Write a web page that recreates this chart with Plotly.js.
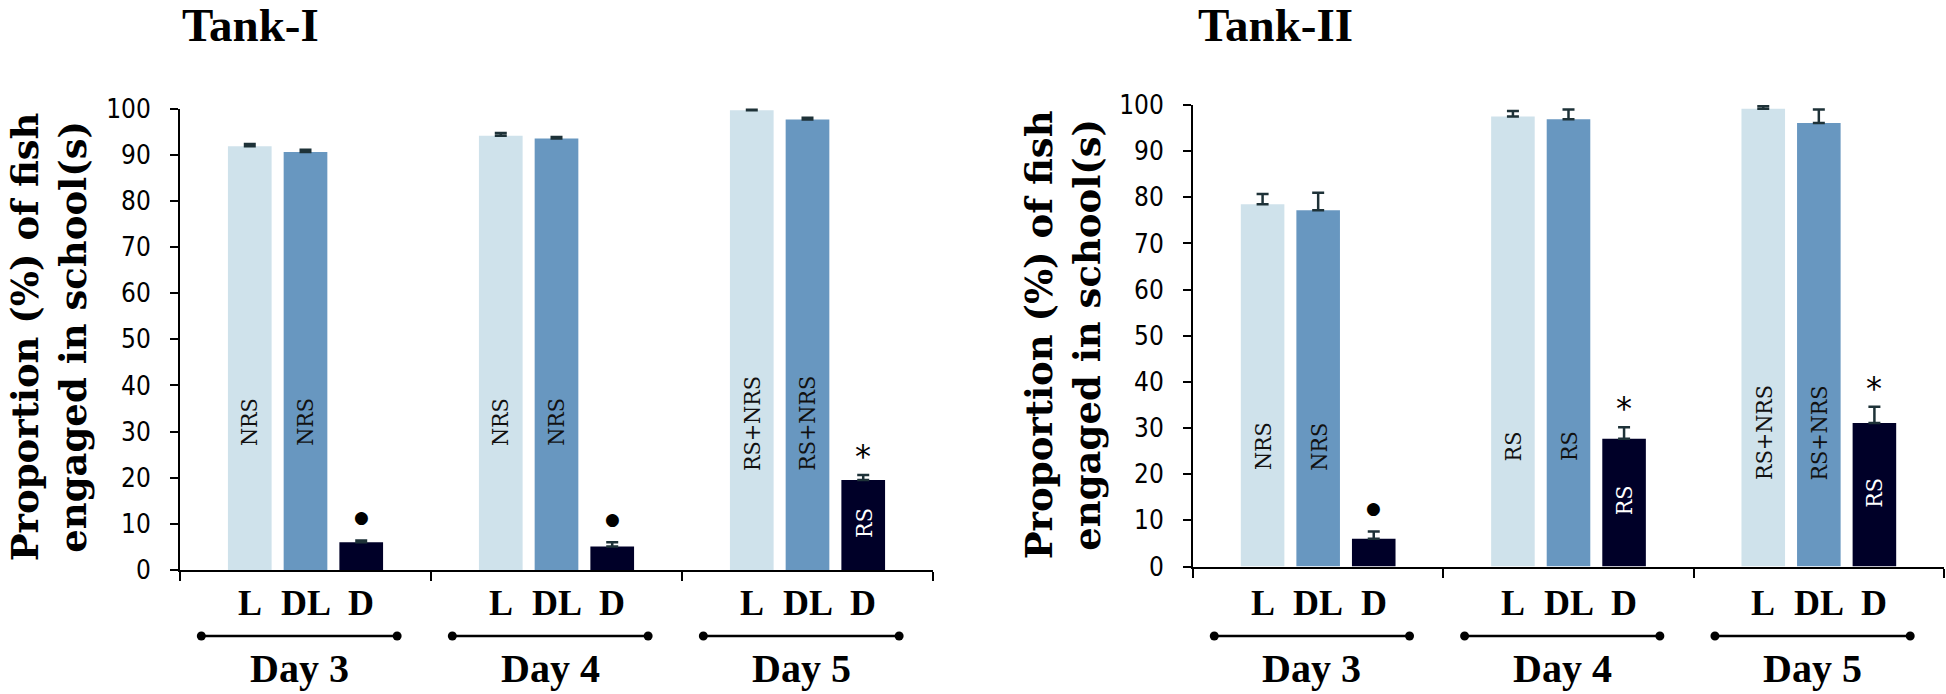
<!DOCTYPE html>
<html>
<head>
<meta charset="utf-8">
<script src="https://cdn.plot.ly/plotly-3.0.1.min.js"></script>
<style>html,body{margin:0;padding:0;background:#fff;}#chart{width:1946px;height:694px;}</style>
</head>
<body>
<div id="chart"></div>
<script>
// ---------------- data ----------------
const days = ['Day 3', 'Day 4', 'Day 5'];
const conditions = ['L', 'DL', 'D'];
const panelTitles = ['Tank-I', 'Tank-II'];
const yTitle = 'Proportion (%) of fish<br>engaged in school(s)';

// Tank-I
const t1_L = [91.8, 94.1, 99.6];
const t1_L_err = [0.5, 0.6, 0.3];
const t1_DL = [90.6, 93.5, 97.6];
const t1_DL_err = [0.45, 0.3, 0.4];
const t1_D = [6.0, 5.1, 19.5];
const t1_D_err = [0.4, 0.9, 1.1];
const t1_L_text = ['NRS', 'NRS', 'RS+NRS'];
const t1_DL_text = ['NRS', 'NRS', 'RS+NRS'];
const t1_D_text = ['', '', 'RS'];
const t1_sig = ['●', '●', '*'];

// Tank-II
const t2_L = [78.5, 97.5, 99.2];
const t2_L_err = [2.2, 1.2, 0.6];
const t2_DL = [77.2, 96.9, 96.1];
const t2_DL_err = [3.8, 2.1, 2.9];
const t2_D = [6.0, 27.7, 31.1];
const t2_D_err = [1.6, 2.5, 3.5];
const t2_L_text = ['NRS', 'RS', 'RS+NRS'];
const t2_DL_text = ['NRS', 'RS', 'RS+NRS'];
const t2_D_text = ['', 'RS', 'RS'];
const t2_sig = ['●', '*', '*'];

// ---------------- style ----------------
const COLORS = ['#cfe2eb', '#6897c0', '#000028'];
const ERR_COLOR = '#1e3238';
const BARGAP = 0.334, BARGROUPGAP = 0.216;
const SLOT = (1 - BARGAP) / 3;
const SERIF = '"Liberation Serif", "Times New Roman", serif';
const YTITLE_FONT = '"DejaVu Serif", serif';
const INNER_FONT = '"DejaVu Serif Condensed", "DejaVu Serif", serif';
const TICK_FONT = '"Liberation Sans Narrow", "DejaVu Sans Condensed", sans-serif';
const H = 694, W = 1946;

const panels = [
  {xa: 'x', ya: 'y', L: t1_L, Le: t1_L_err, DL: t1_DL, DLe: t1_DL_err, D: t1_D, De: t1_D_err,
   Lt: t1_L_text, DLt: t1_DL_text, Dt: t1_D_text, sig: t1_sig,
   xdom: [180 / W, 933 / W], ydom: [(H - 570) / H, (H - 108.5) / H],
   labelY: {'NRS': 32, 'RS': 32, 'RS+NRS': 31.8},
   titleX: 250 / W, yTitleX: 49 / W, yTitleY: 0.514},
  {xa: 'x2', ya: 'y2', L: t2_L, Le: t2_L_err, DL: t2_DL, DLe: t2_DL_err, D: t2_D, De: t2_D_err,
   Lt: t2_L_text, DLt: t2_DL_text, Dt: t2_D_text, sig: t2_sig,
   xdom: [1193 / W, 1944 / W], ydom: [(H - 566.5) / H, (H - 105) / H],
   labelY: {'NRS': 26, 'RS': 26, 'RS+NRS': 29},
   titleX: 1275 / W, yTitleX: 1063 / W, yTitleY: 0.517}
];

const traces = [];
const annotations = [];
const shapes = [];

function barTrace(name, y, err, color, p) {
  return {
    type: 'bar', name: name, x: days, y: y,
    xaxis: p.xa, yaxis: p.ya,
    marker: {color: color, line: {width: 0}},
    error_y: {type: 'data', symmetric: false, array: err, arrayminus: err.map(() => 0),
              color: ERR_COLOR, thickness: 2.5, width: 6},
    showlegend: false, hoverinfo: 'skip'
  };
}

panels.forEach((p, pi) => {
  traces.push(barTrace('L', p.L, p.Le, COLORS[0], p));
  traces.push(barTrace('DL', p.DL, p.DLe, COLORS[1], p));
  traces.push(barTrace('D', p.D, p.De, COLORS[2], p));

  const xref = p.xa, yref = p.ya;
  const vals = [p.L, p.DL, p.D];
  const texts = [p.Lt, p.DLt, p.Dt];

  days.forEach((day, g) => {
    conditions.forEach((c, i) => {
      annotations.push({xref: xref, yref: 'paper', x: g + (i - 1) * SLOT, y: (H - 603) / H,
        text: c, showarrow: false, xanchor: 'center', yanchor: 'middle',
        font: {family: SERIF, size: 36, color: '#000', weight: 'bold'}});
      const t = texts[i][g];
      if (t) {
        const yy = (i === 2) ? vals[i][g] / 2 + 0.5 : p.labelY[t];
        annotations.push({xref: xref, yref: yref, x: g + (i - 1) * SLOT, y: yy,
          text: t, showarrow: false, textangle: -90, xanchor: 'center', yanchor: 'middle',
          font: {family: INNER_FONT, size: 23, color: i === 2 ? '#ffffff' : '#111111'}});
      }
    });
    annotations.push({xref: xref, yref: yref, x: g + SLOT, y: p.D[g] + p.De[g],
      text: p.sig[g], showarrow: false, xanchor: 'center', yanchor: 'middle',
      yshift: p.sig[g] === '*' ? 19 : 23,
      font: {family: '"DejaVu Sans", sans-serif', size: p.sig[g] === '*' ? 32 : 17, color: '#000'}});
    annotations.push({xref: xref, yref: 'paper', x: g - 0.025, y: (H - 668) / H,
      text: day, showarrow: false, xanchor: 'center', yanchor: 'middle',
      font: {family: SERIF, size: 40, color: '#000', weight: 'bold'}});
    const lx0 = g - 0.025 - 0.39, lx1 = g - 0.025 + 0.39, ly = (H - 636) / H;
    shapes.push({type: 'line', xref: xref, yref: 'paper', x0: lx0, x1: lx1, y0: ly, y1: ly,
      line: {color: '#000', width: 2.5}});
    [lx0, lx1].forEach(cx => shapes.push({type: 'circle', xref: xref, yref: 'paper',
      xsizemode: 'pixel', ysizemode: 'pixel', xanchor: cx, yanchor: ly,
      x0: -4.5, x1: 4.5, y0: -4.5, y1: 4.5, fillcolor: '#000', line: {width: 0}}));
  });

  annotations.push({xref: 'paper', yref: 'paper', x: p.titleX, y: (H - 25) / H,
    text: panelTitles[pi], showarrow: false, xanchor: 'center', yanchor: 'middle',
    font: {family: SERIF, size: 47, color: '#000', weight: 'bold'}});
  annotations.push({xref: 'paper', yref: 'paper', x: p.yTitleX, y: p.yTitleY,
    text: yTitle, showarrow: false, textangle: -90, xanchor: 'center', yanchor: 'middle',
    font: {family: YTITLE_FONT, size: 37, color: '#000', weight: 'bold'}});
});

function xAxis(dom, anchor) {
  return {domain: dom, anchor: anchor, type: 'category', categoryarray: days, range: [-0.5, 2.5],
    tickson: 'boundaries', ticks: 'outside', ticklen: 9, tickwidth: 2, tickcolor: '#000',
    showticklabels: false, showline: true, linecolor: '#000', linewidth: 2,
    showgrid: false, zeroline: false, fixedrange: true};
}
function yAxis(dom, anchor) {
  return {domain: dom, anchor: anchor, range: [0, 100], tickmode: 'linear', tick0: 0, dtick: 10,
    ticks: 'outside', ticklen: 8, tickwidth: 2, tickcolor: '#000', ticklabelstandoff: 14,
    tickfont: {family: TICK_FONT, size: 26, color: '#000'},
    showline: true, linecolor: '#000', linewidth: 2, showgrid: false, zeroline: false, fixedrange: true};
}

const layout = {
  width: W, height: H,
  margin: {l: 0, r: 0, t: 0, b: 0},
  paper_bgcolor: '#fff', plot_bgcolor: '#fff',
  barmode: 'group', bargap: BARGAP, bargroupgap: BARGROUPGAP,
  showlegend: false,
  xaxis: xAxis(panels[0].xdom, 'y'),
  yaxis: yAxis(panels[0].ydom, 'x'),
  xaxis2: xAxis(panels[1].xdom, 'y2'),
  yaxis2: yAxis(panels[1].ydom, 'x2'),
  annotations: annotations,
  shapes: shapes
};

Plotly.newPlot('chart', traces, layout, {staticPlot: true, displayModeBar: false});
</script>
</body>
</html>
